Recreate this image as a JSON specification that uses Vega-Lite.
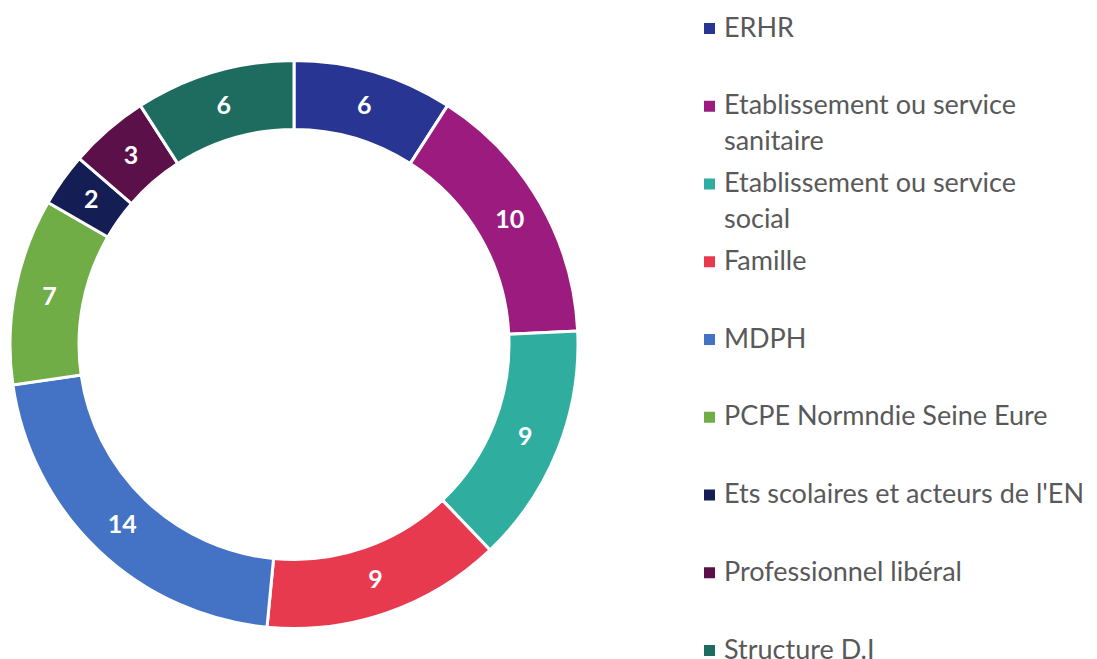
{
  "$schema": "https://vega.github.io/schema/vega-lite/v6.json",
  "width": 588,
  "height": 629,
  "padding": {"left": 0, "top": 30, "right": 509, "bottom": 0},
  "autosize": {"type": "none"},
  "background": "white",
  "config": {"view": {"stroke": null}, "style": {"guide-label": {"lineHeight": 36}}},
  "data": {
    "values": [
      {"cat": "ERHR", "n": 6, "ord": 1},
      {"cat": "Etablissement ou service sanitaire", "n": 10, "ord": 2},
      {"cat": "Etablissement ou service social", "n": 9, "ord": 3},
      {"cat": "Famille", "n": 9, "ord": 4},
      {"cat": "MDPH", "n": 14, "ord": 5},
      {"cat": "PCPE Normndie Seine Eure", "n": 7, "ord": 6},
      {"cat": "Ets scolaires et acteurs de l'EN", "n": 2, "ord": 7},
      {"cat": "Professionnel libéral", "n": 3, "ord": 8},
      {"cat": "Structure D.I", "n": 6, "ord": 9}
    ]
  },
  "encoding": {
    "theta": {"field": "n", "type": "quantitative", "stack": true},
    "order": {"field": "ord", "type": "quantitative"},
    "color": {
      "field": "cat",
      "type": "nominal",
      "sort": null,
      "scale": {
        "domain": ["ERHR", "Etablissement ou service sanitaire", "Etablissement ou service social", "Famille", "MDPH", "PCPE Normndie Seine Eure", "Ets scolaires et acteurs de l'EN", "Professionnel libéral", "Structure D.I"],
        "range": ["#283593", "#9B1C7E", "#2FAE9F", "#E83A4F", "#4472C4", "#70AD47", "#141E55", "#5C104A", "#1E6B60"]
      },
      "legend": {
        "title": null,
        "orient": "none",
        "legendX": 696,
        "legendY": -15,
        "symbolType": "square",
        "symbolSize": 121,
        "symbolStrokeWidth": 0,
        "labelFont": "Lato",
        "labelFontSize": 27,
        "labelColor": "#595959",
        "labelOffset": 1,
        "labelLimit": 450,
        "gridAlign": "all",
        "rowPadding": 13.75,
        "labelExpr": "datum.label == 'Etablissement ou service sanitaire' ? ['Etablissement ou service', 'sanitaire'] : datum.label == 'Etablissement ou service social' ? ['Etablissement ou service', 'social'] : datum.label"
      }
    }
  },
  "layer": [
    {
      "mark": {"type": "arc", "innerRadius": 215, "outerRadius": 284, "stroke": "white", "strokeWidth": 3}
    },
    {
      "mark": {"type": "text", "radius": 249, "font": "Lato", "fontSize": 25, "fontWeight": "bold", "fill": "white"},
      "encoding": {"text": {"field": "n", "type": "quantitative"}, "color": {"value": "white"}}
    }
  ]
}
